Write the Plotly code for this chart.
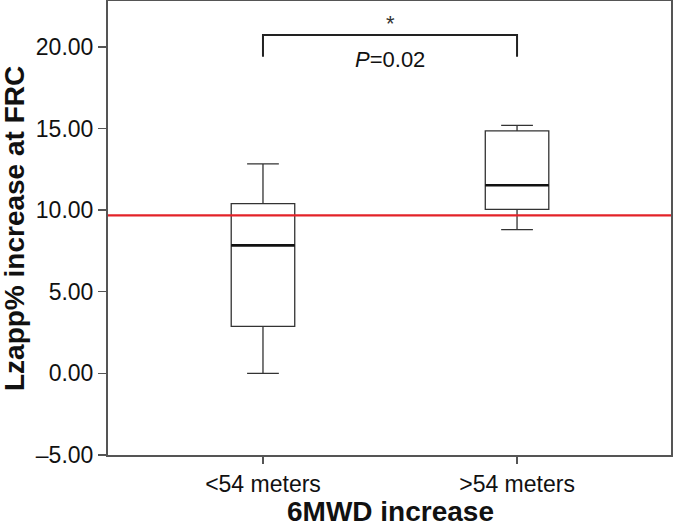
import plotly.graph_objects as go

# ---- data ----
categories = ["<54 meters", ">54 meters"]
lower_whisker = [0.0, 8.80]
q1_values = [2.88, 10.04]
medians = [7.84, 11.52]
q3_values = [10.40, 14.85]
upper_whisker = [12.83, 15.19]

reference_line = 9.68          # red horizontal line
bracket_low = 19.39            # significance bracket
bracket_high = 20.73
star_y = 21.45
p_text_y = 19.2
p_label = "<i>P</i>=0.02"

y_tickvals = [-5, 0, 5, 10, 15, 20]
y_ticktext = ["\u20135.00", "0.00", "5.00", "10.00", "15.00", "20.00"]

x_title = "<b>6MWD increase</b>"
y_title = "<b>Lzapp% increase at FRC</b>"

BOX_W = 0.25
FONT = "Liberation Sans, Arial, sans-serif"
AXIS_COLOR = "#555555"

fig = go.Figure()
fig.add_trace(go.Box(
    x=categories,
    q1=q1_values, median=medians, q3=q3_values,
    lowerfence=lower_whisker, upperfence=upper_whisker,
    width=BOX_W, whiskerwidth=0.5,
    fillcolor="white",
    line=dict(color="#333333", width=1.3),
    boxpoints=False, showlegend=False, hoverinfo="skip",
))

shapes = []
# thicker median lines
for i, m in enumerate(medians):
    shapes.append(dict(type="line", xref="x", yref="y",
                       x0=i - BOX_W / 2, x1=i + BOX_W / 2, y0=m, y1=m,
                       line=dict(color="#111111", width=2.6)))
# red reference line
shapes.append(dict(type="line", xref="paper", yref="y", x0=0, x1=1,
                   y0=reference_line, y1=reference_line,
                   line=dict(color="#e32228", width=2.2)))
# significance bracket
shapes.append(dict(type="path", xref="x", yref="y",
                   path=f"M 0 {bracket_low} L 0 {bracket_high} L 1 {bracket_high} L 1 {bracket_low}",
                   line=dict(color="#222222", width=2)))

annotations = [
    dict(x=0.5, y=star_y, xref="x", yref="y", text="*", showarrow=False,
         font=dict(family=FONT, size=22, color="#333333")),
    dict(x=0.5, y=p_text_y, xref="x", yref="y", text=p_label, showarrow=False,
         font=dict(family=FONT, size=22, color="#111111")),
    dict(x=0.502, y=-0.162, xref="paper", yref="paper", text=x_title,
         showarrow=False, xanchor="center", yanchor="bottom",
         font=dict(family=FONT, size=28, color="#111111")),
    dict(x=-0.165, y=0.498, xref="paper", yref="paper", text=y_title,
         showarrow=False, xanchor="center", yanchor="middle", textangle=-90,
         font=dict(family=FONT, size=28, color="#111111")),
]

fig.update_layout(
    width=673, height=526,
    margin=dict(l=108, r=2, t=1, b=71, autoexpand=False),
    paper_bgcolor="white", plot_bgcolor="white",
    shapes=shapes, annotations=annotations,
    font=dict(family=FONT, color="#111111"),
    xaxis=dict(
        type="category", range=[-0.61, 1.606], automargin=False,
        showgrid=False, zeroline=False,
        showline=True, mirror=True, linecolor=AXIS_COLOR, linewidth=2,
        ticks="outside", ticklen=7, tickcolor=AXIS_COLOR, tickwidth=1.3,
        tickfont=dict(family=FONT, size=23, color="#111111"),
    ),
    yaxis=dict(
        range=[-5, 22.81], automargin=False,
        showgrid=False, zeroline=False,
        showline=True, mirror=True, linecolor=AXIS_COLOR, linewidth=2,
        ticks="outside", ticklen=8, tickcolor=AXIS_COLOR, tickwidth=1.3,
        tickvals=y_tickvals, ticktext=y_ticktext,
        tickfont=dict(family=FONT, size=23, color="#111111"),
    ),
)

fig.write_html("out.html",
               config={"displayModeBar": False, "staticPlot": True},
               post_script="document.body.style.margin='0';document.body.style.padding='0';")
